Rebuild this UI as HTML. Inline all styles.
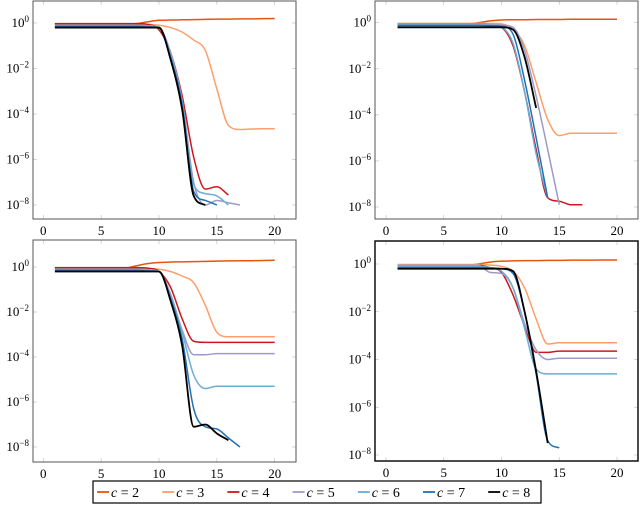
<!DOCTYPE html>
<html><head><meta charset="utf-8"><style>
body{margin:0;background:#fff;width:640px;height:505px;overflow:hidden}
svg{display:block;font-family:"Liberation Serif",serif}
</style></head><body>
<svg id="chart" width="640" height="505"></svg>
<script>
const series = ["c = 2","c = 3","c = 4","c = 5","c = 6","c = 7","c = 8"];
const xTicks = [0,5,10,15,20];
const yTickExps = [0,-2,-4,-6,-8];
// log10 values, index i -> iteration i+1
const tl_c2=[-0.05,-0.05,-0.05,-0.05,-0.05,-0.05,-0.05,-0.03,0.05,0.12,0.13,0.14,0.15,0.16,0.17,0.17,0.18,0.18,0.19,0.2];
const tl_c3=[-0.05,-0.05,-0.05,-0.05,-0.05,-0.05,-0.05,-0.05,-0.06,-0.1,-0.2,-0.4,-0.75,-1.2,-2.9,-4.5,-4.68,-4.66,-4.65,-4.65];
const tl_c4=[-0.03,-0.03,-0.03,-0.03,-0.03,-0.03,-0.03,-0.03,-0.06,-0.3,-1.3,-3.2,-5.9,-7.3,-7.2,-7.56];
const tl_c5=[-0.1,-0.1,-0.1,-0.1,-0.1,-0.1,-0.1,-0.1,-0.12,-0.2,-1.3,-3.4,-7.0,-8.0,-7.8,-7.9,-8.0];
const tl_c6=[-0.1,-0.1,-0.1,-0.1,-0.1,-0.1,-0.1,-0.1,-0.12,-0.2,-1.4,-3.5,-7.1,-7.5,-7.6,-8.0];
const tl_c7=[-0.15,-0.15,-0.15,-0.15,-0.15,-0.15,-0.15,-0.15,-0.17,-0.2,-1.5,-3.6,-7.4,-7.8,-8.0];
const tl_c8=[-0.2,-0.2,-0.2,-0.2,-0.2,-0.2,-0.2,-0.2,-0.2,-0.2,-1.6,-3.8,-7.6,-8.0];
const tr_c2=[-0.05,-0.05,-0.05,-0.05,-0.05,-0.05,-0.05,0.0,0.08,0.12,0.13,0.13,0.14,0.14,0.14,0.15,0.15,0.15,0.15,0.15];
const tr_c3=[-0.03,-0.03,-0.03,-0.03,-0.03,-0.03,-0.03,-0.03,-0.03,-0.05,-0.3,-1.0,-2.6,-4.2,-4.9,-4.8,-4.8,-4.8,-4.8,-4.8];
const tr_c4=[-0.05,-0.05,-0.05,-0.05,-0.05,-0.05,-0.05,-0.05,-0.07,-0.2,-1.0,-3.0,-5.5,-7.6,-7.75,-7.9,-7.9];
const tr_c5=[-0.05,-0.05,-0.05,-0.05,-0.05,-0.05,-0.05,-0.05,-0.06,-0.1,-0.2,-1.2,-3.2,-5.5,-7.9];
const tr_c6=[-0.1,-0.1,-0.1,-0.1,-0.1,-0.1,-0.1,-0.1,-0.12,-0.2,-0.9,-3.0,-5.7,-7.6];
const tr_c7=[-0.12,-0.12,-0.12,-0.12,-0.12,-0.12,-0.12,-0.12,-0.13,-0.15,-0.5,-2.5,-5.0,-7.6];
const tr_c8=[-0.2,-0.2,-0.2,-0.2,-0.2,-0.2,-0.2,-0.2,-0.2,-0.2,-0.3,-1.5,-3.7];
const bl_c2=[-0.05,-0.05,-0.05,-0.05,-0.05,-0.05,-0.05,0.05,0.15,0.2,0.22,0.23,0.24,0.25,0.26,0.27,0.28,0.28,0.29,0.3];
const bl_c3=[-0.05,-0.05,-0.05,-0.05,-0.05,-0.05,-0.05,-0.05,-0.06,-0.1,-0.2,-0.4,-0.7,-1.7,-2.9,-3.1,-3.1,-3.1,-3.1,-3.1];
const bl_c4=[-0.03,-0.03,-0.03,-0.03,-0.03,-0.03,-0.03,-0.03,-0.05,-0.2,-0.9,-2.3,-3.3,-3.35,-3.35,-3.35,-3.35,-3.35,-3.35,-3.35];
const bl_c5=[-0.1,-0.1,-0.1,-0.1,-0.1,-0.1,-0.1,-0.1,-0.12,-0.2,-1.2,-2.8,-3.9,-3.9,-3.85,-3.85,-3.85,-3.85,-3.85,-3.85];
const bl_c6=[-0.1,-0.1,-0.1,-0.1,-0.1,-0.1,-0.1,-0.1,-0.12,-0.2,-1.3,-2.9,-4.8,-5.4,-5.3,-5.3,-5.3,-5.3,-5.3,-5.3];
const bl_c7=[-0.15,-0.15,-0.15,-0.15,-0.15,-0.15,-0.15,-0.15,-0.17,-0.2,-1.4,-3.2,-6.3,-7.1,-7.2,-7.6,-8.0];
const bl_c8=[-0.2,-0.2,-0.2,-0.2,-0.2,-0.2,-0.2,-0.2,-0.2,-0.2,-1.5,-3.5,-7.1,-7.0,-7.4,-7.7];
const br_c2=[-0.05,-0.05,-0.05,-0.05,-0.05,-0.05,-0.05,0.0,0.08,0.12,0.13,0.14,0.14,0.15,0.15,0.16,0.16,0.16,0.17,0.17];
const br_c3=[-0.02,-0.02,-0.02,-0.02,-0.02,-0.02,-0.02,-0.02,-0.04,-0.1,-0.3,-1.0,-2.3,-3.35,-3.3,-3.3,-3.3,-3.3,-3.3,-3.3];
const br_c4=[-0.05,-0.05,-0.05,-0.05,-0.05,-0.05,-0.05,-0.05,-0.15,-0.35,-1.3,-2.6,-3.7,-3.7,-3.65,-3.65,-3.65,-3.65,-3.65,-3.65];
const br_c5=[-0.05,-0.05,-0.05,-0.05,-0.05,-0.05,-0.05,-0.05,-0.35,-0.4,-1.0,-2.5,-3.6,-4.0,-3.95,-3.95,-3.95,-3.95,-3.95,-3.95];
const br_c6=[-0.1,-0.1,-0.1,-0.1,-0.1,-0.1,-0.1,-0.1,-0.15,-0.3,-1.0,-2.7,-4.4,-4.6,-4.6,-4.6,-4.6,-4.6,-4.6,-4.6];
const br_c7=[-0.15,-0.15,-0.15,-0.15,-0.15,-0.15,-0.15,-0.15,-0.16,-0.2,-0.4,-2.0,-4.6,-7.4,-7.7];
const br_c8=[-0.2,-0.2,-0.2,-0.2,-0.2,-0.2,-0.2,-0.2,-0.2,-0.2,-0.3,-2.0,-4.5,-7.5];
const colors=["#e6550d","#fc9f6c","#cb181d","#9e9ac8","#6baed6","#2171b5","#000000"];
const panels=[
 {name:"top-left",L:33,R:296,T:1,B:219,x0:43.3,x20:274.7,y0:23,y8:205,border:"#555",bw:1,data:[tl_c2,tl_c3,tl_c4,tl_c5,tl_c6,tl_c7,tl_c8]},
 {name:"top-right",L:375,R:638,T:1,B:219,x0:386,x20:617,y0:22.7,y8:207,border:"#555",bw:1,data:[tr_c2,tr_c3,tr_c4,tr_c5,tr_c6,tr_c7,tr_c8]},
 {name:"bottom-left",L:33,R:296,T:240,B:462,x0:43.3,x20:274.7,y0:267,y8:447,border:"#555",bw:1,data:[bl_c2,bl_c3,bl_c4,bl_c5,bl_c6,bl_c7,bl_c8]},
 {name:"bottom-right",L:375,R:638,T:241,B:461,x0:386,x20:617,y0:264,y8:455,border:"#000",bw:1.4,data:[br_c2,br_c3,br_c4,br_c5,br_c6,br_c7,br_c8]}
];
const NS="http://www.w3.org/2000/svg";
const svg=document.getElementById('chart');
function mk(tag,attrs,parent){const e=document.createElementNS(NS,tag);for(const k in attrs)e.setAttribute(k,attrs[k]);(parent||svg).appendChild(e);return e;}
// monotone cubic (Fritsch-Carlson) to avoid overshoot
function smooth(pts){
 const n=pts.length;const d=[],m=[];
 for(let i=0;i<n-1;i++)d.push((pts[i+1][1]-pts[i][1])/(pts[i+1][0]-pts[i][0]));
 m[0]=d[0];m[n-1]=d[n-2];
 for(let i=1;i<n-1;i++){m[i]=(d[i-1]*d[i]<=0)?0:(d[i-1]+d[i])/2;}
 for(let i=0;i<n-1;i++){if(d[i]===0){m[i]=0;m[i+1]=0;continue;}
  const a=m[i]/d[i],b=m[i+1]/d[i],s=a*a+b*b;if(s>9){const t=3/Math.sqrt(s);m[i]=t*a*d[i];m[i+1]=t*b*d[i];}}
 let p="M"+pts[0][0].toFixed(2)+","+pts[0][1].toFixed(2);
 for(let i=0;i<n-1;i++){const h=(pts[i+1][0]-pts[i][0])/3;
  p+=" C"+(pts[i][0]+h).toFixed(2)+","+(pts[i][1]+m[i]*h).toFixed(2)+" "+(pts[i+1][0]-h).toFixed(2)+","+(pts[i+1][1]-m[i+1]*h).toFixed(2)+" "+pts[i+1][0].toFixed(2)+","+pts[i+1][1].toFixed(2);}
 return p;}
panels.forEach(p=>{
 const g=mk('g',{});
 
 
 const sx=v=>p.x0+(p.x20-p.x0)*v/20;
 const sy=l=>p.y0+(p.y8-p.y0)*(-l)/8;
 xTicks.forEach(t=>{const x=sx(t);
  mk('line',{x1:x,x2:x,y1:p.T,y2:p.T+4,stroke:"#bbb","stroke-width":0.6},g);
  mk('line',{x1:x,x2:x,y1:p.B,y2:p.B-4,stroke:"#bbb","stroke-width":0.6},g);
  const tx=mk('text',{x:x,y:p.B+16,"text-anchor":"middle","font-size":13},g);
  tx.textContent=t;
  
  });
 yTickExps.forEach(e=>{const y=sy(e);
  mk('line',{x1:p.L,x2:p.L+4,y1:y,y2:y,stroke:"#bbb","stroke-width":0.6},g);
  mk('line',{x1:p.R,x2:p.R-4,y1:y,y2:y,stroke:"#bbb","stroke-width":0.6},g);
  const tx=mk('text',{x:p.L-4,y:y+4,"text-anchor":"end","font-size":13},g);
  
  
  const a=mk('tspan',{},tx);a.textContent="10";
  const b=mk('tspan',{dy:-5,"font-size":9},tx);b.textContent=(e===0?"0":"\u2212"+(-e));});
 p.data.forEach((arr,si)=>{
  const pts=arr.map((v,i)=>[sx(i+1),sy(v)]);
  const path=mk('path',{d:smooth(pts),fill:"none",stroke:colors[si],"stroke-width":si===6?1.8:1.5,"stroke-linejoin":"round"},g);
  
  });
 const r=mk('rect',{x:p.L,y:p.T,width:p.R-p.L,height:p.B-p.T,fill:"none",stroke:p.border,"stroke-width":p.bw},g);
 
 
});
const lg=mk('g',{});


mk('rect',{x:93,y:481,width:448,height:22,fill:"#fff",stroke:"#000","stroke-width":1.2},lg);
series.forEach((s,i)=>{const x=97+i*65.2;
 const e=mk('g',{},lg);
 
 
 mk('line',{x1:x,x2:x+12,y1:492,y2:492,stroke:colors[i],"stroke-width":1.8},e);
 const t=mk('text',{x:x+14,y:497,"font-size":14},e);
 const a=mk('tspan',{"font-style":"italic"},t);a.textContent="c";
 const b=mk('tspan',{},t);b.textContent=" = "+(i+2);
});
</script>
</body></html>
